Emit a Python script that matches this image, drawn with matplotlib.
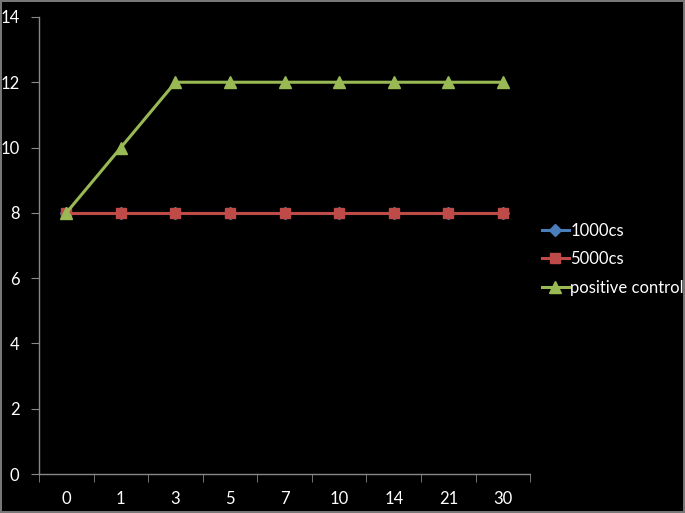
import numpy as np
import matplotlib.pyplot as plt

days = ['0', '1', '3', '5', '7', '10', '14', '21', '30']
cs1000 = [8, 8, 8, 8, 8, 8, 8, 8, 8]
cs5000 = [8, 8, 8, 8, 8, 8, 8, 8, 8]
positive = [8, 10, 12, 12, 12, 12, 12, 12, 12]

plt.rcParams['font.family'] = ['Lato', 'DejaVu Sans']

fig = plt.figure(figsize=(6.85, 5.13), dpi=100, facecolor='black')
fig.patch.set_edgecolor('#777777')
fig.patch.set_linewidth(1.5)
ax = fig.add_axes([0.057, 0.076, 0.717, 0.891])
ax.set_facecolor('black')

x = np.arange(len(days))
ax.plot(x, cs1000, color='#4a7ebb', lw=2.2, marker='D', ms=6, mec='#4a7ebb', label='1000cs')
ax.plot(x, cs5000, color='#be4b48', lw=2.2, marker='s', ms=7, mec='#be4b48', label='5000cs')
ax.plot(x, positive, color='#98b954', lw=2.2, marker='^', ms=8, mec='#98b954', label='positive control')

ax.set_xlim(-0.5, len(days) - 0.5)
ax.set_ylim(0, 14)
ax.set_yticks(range(0, 15, 2))
ax.set_xticks(x)
ax.set_xticklabels(days)
ax.set_xticks(np.arange(len(days) + 1) - 0.5, minor=True)
ax.tick_params(axis='x', which='major', length=0, pad=12, colors='white', labelsize=12)
ax.tick_params(axis='x', which='minor', length=6, color='#888888', direction='out')
ax.tick_params(axis='y', length=6, color='#888888', colors='white', labelsize=12, pad=8)

for s in ['top', 'right']:
    ax.spines[s].set_visible(False)
for s in ['left', 'bottom']:
    ax.spines[s].set_color('#888888')
    ax.spines[s].set_linewidth(1)

leg = ax.legend(loc='center left', bbox_to_anchor=(1.0, 0.47), frameon=False,
                fontsize=12, handlelength=1.6, handletextpad=0.1,
                labelspacing=0.75, borderaxespad=0.3)
for t in leg.get_texts():
    t.set_color('white')

fig.savefig('out.png', dpi=100, facecolor='black', edgecolor=fig.get_edgecolor())
